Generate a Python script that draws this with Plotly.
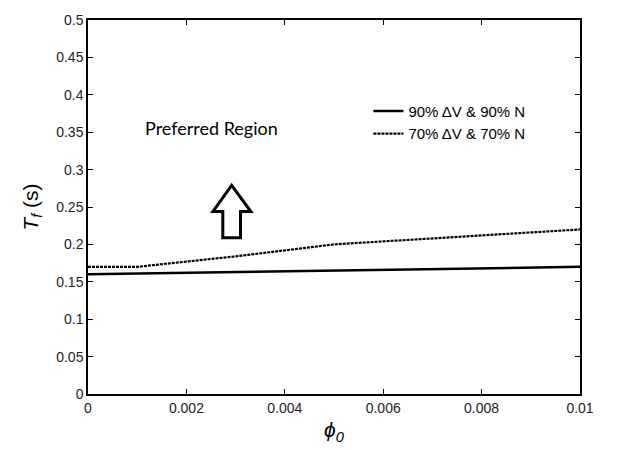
import plotly.graph_objects as go

# Tf versus initial equivalence ratio for two operating criteria
phi0 = [0.0, 0.001, 0.002, 0.003, 0.004, 0.005, 0.006, 0.007, 0.008, 0.009, 0.010]
tf_90 = [0.160, 0.161, 0.162, 0.163, 0.164, 0.165, 0.166, 0.167, 0.168, 0.169, 0.170]
tf_70 = [0.170, 0.170, 0.177, 0.184, 0.192, 0.200, 0.204, 0.208, 0.212, 0.216, 0.220]

x_ticks = [0, 0.002, 0.004, 0.006, 0.008, 0.01]
x_tick_text = ["0", "0.002", "0.004", "0.006", "0.008", "0.01"]
y_ticks = [0, 0.05, 0.1, 0.15, 0.2, 0.25, 0.3, 0.35, 0.4, 0.45, 0.5]
y_tick_text = ["0", "0.05", "0.1", "0.15", "0.2", "0.25", "0.3", "0.35", "0.4", "0.45", "0.5"]

# hollow arrow pointing toward the preferred region (data coordinates)
arrow_x = [0.00292, 0.00331, 0.00310, 0.00310, 0.00274, 0.00274, 0.00254]
arrow_y = [0.279, 0.244, 0.244, 0.209, 0.209, 0.244, 0.244]

fig = go.Figure()
fig.add_trace(go.Scatter(
    x=phi0, y=tf_90, mode="lines", name="90% ΔV & 90% N",
    line=dict(color="black", width=2.5),
))
fig.add_trace(go.Scatter(
    x=phi0, y=tf_70, mode="lines", name="70% ΔV & 70% N",
    line=dict(color="black", width=2.2, dash="3px,1px"),
))

path = "M " + " L ".join(f"{x},{y}" for x, y in zip(arrow_x, arrow_y)) + " Z"
fig.add_shape(type="path", path=path, xref="x", yref="y",
              line=dict(color="black", width=3), fillcolor="white")

fig.add_annotation(x=0.0025, y=0.355, xref="x", yref="y", text="Preferred Region",
                   showarrow=False, font=dict(family="Lato", size=18, color="black"))

axis_common = dict(
    showgrid=False, zeroline=False, showline=True, linecolor="black", linewidth=1.5,
    mirror="ticks", ticks="inside", ticklen=5, tickcolor="black", tickwidth=1,
    tickfont=dict(family="Liberation Sans, Arial", size=14, color="#222"),
)

fig.update_layout(
    width=625, height=450,
    margin=dict(l=88, r=45, t=13, b=52),
    plot_bgcolor="white", paper_bgcolor="white",
    showlegend=True,
    legend=dict(x=0.57, y=0.80, xanchor="left", yanchor="top", bgcolor="rgba(0,0,0,0)",
                font=dict(family="Liberation Sans, Arial", size=15, color="black"),
                tracegroupgap=0, itemwidth=30),
    xaxis=dict(range=[0, 0.01], tickvals=x_ticks, ticktext=x_tick_text,
               title=dict(text="<i>ϕ<sub>0</sub></i>", standoff=8,
                          font=dict(family="Liberation Sans, Arial", size=21, color="black")),
               **axis_common),
    yaxis=dict(range=[0, 0.5], tickvals=y_ticks, ticktext=y_tick_text,
               title=dict(text="<i>T<sub>f</sub></i> (s)", standoff=12,
                          font=dict(family="Liberation Sans, Arial", size=21, color="black")),
               **axis_common),
)

fig.write_html("out.html")
